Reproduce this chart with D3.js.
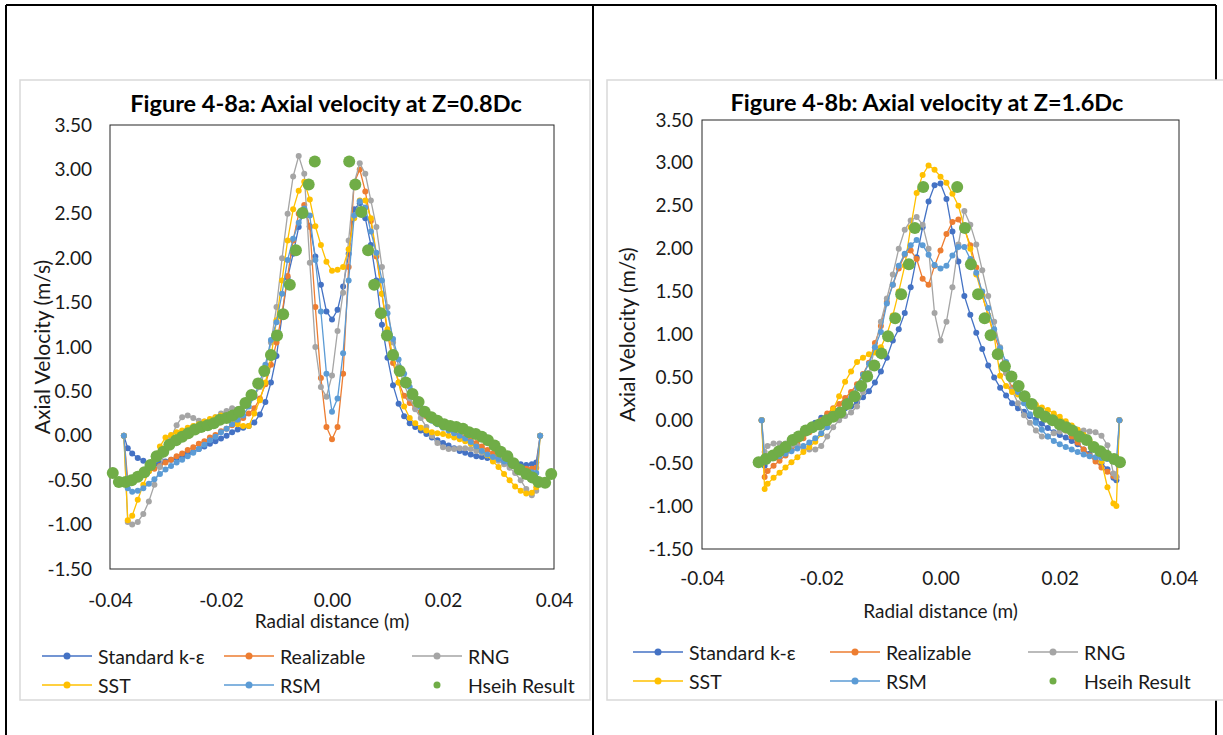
<!DOCTYPE html>
<html>
<head>
<meta charset="utf-8">
<script src="https://d3js.org/d3.v7.min.js"></script>
<style>
  body { margin: 0; background: #fff; }
  svg text { font-family: Lato, "Open Sans", sans-serif; fill: #1a1a1a; }
</style>
</head>
<body>
<svg id="page" width="1223" height="735"></svg>
<script>
// ---------- data ----------
const seriesNames = ["Standard k-ε", "Realizable", "RNG", "SST", "RSM"];
const seriesColors = ["#4472C4", "#ED7D31", "#A5A5A5", "#FFC000", "#5B9BD5"];
const hseihName = "Hseih Result";
const hseihColor = "#70AD47";
const xTicks = [-0.04, -0.02, 0, 0.02, 0.04];
const yTicks = [-1.5, -1, -0.5, 0, 0.5, 1, 1.5, 2, 2.5, 3, 3.5];

// Figure 4-8a, Z = 0.8Dc
const radialA = [-0.0375, -0.0368, -0.036, -0.035, -0.034, -0.033, -0.032, -0.031, -0.030, -0.029,
  -0.028, -0.027, -0.026, -0.025, -0.024, -0.023, -0.022, -0.021, -0.020, -0.019,
  -0.018, -0.017, -0.016, -0.015, -0.014, -0.013, -0.012, -0.011, -0.010, -0.009,
  -0.008, -0.007, -0.006, -0.005, -0.004, -0.003, -0.002, -0.001, 0,
  0.001, 0.002, 0.003, 0.004, 0.005, 0.006, 0.007, 0.008, 0.009, 0.010,
  0.011, 0.012, 0.013, 0.014, 0.015, 0.016, 0.017, 0.018, 0.019, 0.020,
  0.021, 0.022, 0.023, 0.024, 0.025, 0.026, 0.027, 0.028, 0.029, 0.030,
  0.031, 0.032, 0.033, 0.034, 0.035, 0.036, 0.0368, 0.0375];
const stdA = [0, -0.14, -0.20, -0.25, -0.28, -0.31, -0.32, -0.31, -0.29, -0.27,
  -0.25, -0.23, -0.20, -0.18, -0.15, -0.12, -0.09, -0.06, -0.03, 0.00,
  0.04, 0.07, 0.09, 0.11, 0.15, 0.24, 0.38, 0.60, 0.90, 1.35,
  1.78, 2.05, 2.35, 2.55, 2.36, 2.02, 1.70, 1.40, 1.31,
  1.42, 1.68, 2.05, 2.55, 2.62, 2.45, 2.15, 1.75, 1.25, 0.88,
  0.57, 0.36, 0.22, 0.14, 0.10, 0.06, 0.02, -0.02, -0.05, -0.08,
  -0.11, -0.14, -0.17, -0.19, -0.21, -0.23, -0.24, -0.25, -0.26, -0.27,
  -0.28, -0.30, -0.31, -0.32, -0.33, -0.32, -0.30, 0];
const realA = [0, -0.50, -0.50, -0.46, -0.43, -0.40, -0.37, -0.34, -0.30, -0.27,
  -0.23, -0.20, -0.16, -0.13, -0.09, -0.06, -0.02, 0.01, 0.05, 0.08,
  0.12, 0.16, 0.20, 0.25, 0.31, 0.42, 0.58, 0.80, 1.05, 1.38,
  1.80, 2.20, 2.50, 2.60, 2.35, 1.45, 0.65, 0.10, -0.04,
  0.10, 0.70, 1.90, 2.85, 3.00, 2.75, 2.42, 2.02, 1.60, 1.15,
  0.82, 0.60, 0.45, 0.37, 0.31, 0.26, 0.22, 0.18, 0.14, 0.10,
  0.07, 0.04, 0.01, -0.02, -0.05, -0.08, -0.12, -0.16, -0.20, -0.25,
  -0.28, -0.31, -0.34, -0.36, -0.37, -0.37, -0.36, 0];
const rngA = [0, -0.97, -1.00, -0.97, -0.88, -0.74, -0.55, -0.35, -0.16, -0.02,
  0.12, 0.21, 0.23, 0.20, 0.17, 0.16, 0.17, 0.21, 0.25, 0.28,
  0.31, 0.30, 0.33, 0.40, 0.45, 0.55, 0.75, 1.05, 1.45, 2.00,
  2.50, 2.92, 3.15, 2.95, 1.95, 1.00, 0.55, 0.44, 0.68,
  1.18, 1.61, 2.20, 2.85, 3.07, 2.95, 2.65, 2.35, 1.90, 1.45,
  1.05, 0.78, 0.58, 0.42, 0.30, 0.20, 0.10, 0.00, -0.08, -0.13,
  -0.15, -0.15, -0.14, -0.14, -0.15, -0.17, -0.19, -0.22, -0.25, -0.28,
  -0.32, -0.36, -0.42, -0.50, -0.60, -0.67, -0.62, 0];
const sstA = [0, -0.95, -0.90, -0.72, -0.55, -0.40, -0.27, -0.12, -0.02, 0.01,
  0.04, 0.06, 0.09, 0.11, 0.13, 0.16, 0.19, 0.21, 0.23, 0.21,
  0.17, 0.13, 0.11, 0.11, 0.25, 0.40, 0.60, 0.88, 1.30, 1.75,
  2.20, 2.55, 2.76, 2.86, 2.66, 2.36, 2.15, 1.96, 1.86,
  1.87, 1.90, 2.10, 2.45, 2.65, 2.65, 2.45, 2.05, 1.60, 1.20,
  0.88, 0.60, 0.33, 0.20, 0.14, 0.09, 0.06, 0.04, 0.03, 0.02,
  0.00, -0.02, -0.04, -0.06, -0.09, -0.12, -0.17, -0.22, -0.29, -0.35,
  -0.43, -0.50, -0.57, -0.62, -0.65, -0.64, -0.58, 0];
const rsmA = [0, -0.59, -0.63, -0.62, -0.59, -0.54, -0.49, -0.43, -0.38, -0.34,
  -0.30, -0.27, -0.23, -0.19, -0.15, -0.10, -0.05, -0.01, 0.04, 0.08,
  0.13, 0.18, 0.23, 0.33, 0.44, 0.61, 0.80, 1.08, 1.28, 1.60,
  1.98, 2.22, 2.40, 2.56, 2.48, 1.98, 1.40, 0.70, 0.27,
  0.42, 0.93, 1.75, 2.48, 2.64, 2.57, 2.30, 2.06, 1.75, 1.38,
  1.09, 0.86, 0.70, 0.55, 0.42, 0.32, 0.24, 0.17, 0.13, 0.09,
  0.06, 0.03, 0.00, -0.03, -0.07, -0.12, -0.17, -0.21, -0.24, -0.26,
  -0.29, -0.31, -0.34, -0.37, -0.40, -0.41, -0.42, 0];
const hseihXA = [-0.0395, -0.0384, -0.0372, -0.0361, -0.0350, -0.0338, -0.0327, -0.0316, -0.0304, -0.0293,
  -0.0281, -0.0270, -0.0259, -0.0247, -0.0236, -0.0224, -0.0213, -0.0202, -0.0190, -0.0179,
  -0.0167, -0.0156, -0.0145, -0.0133, -0.0122, -0.0110, -0.0099, -0.0088, -0.0076, -0.0065,
  -0.0053, -0.0042, -0.0031,
  0.0031, 0.0042, 0.0053, 0.0065, 0.0076, 0.0088, 0.0099, 0.0110, 0.0122, 0.0133,
  0.0145, 0.0156, 0.0167, 0.0179, 0.0190, 0.0202, 0.0213, 0.0224, 0.0236, 0.0247,
  0.0259, 0.0270, 0.0281, 0.0293, 0.0304, 0.0316, 0.0327, 0.0338, 0.0350, 0.0361,
  0.0372, 0.0384, 0.0395];
const hseihYA = [-0.42, -0.52, -0.52, -0.50, -0.46, -0.41, -0.33, -0.23, -0.18, -0.10,
  -0.05, -0.01, 0.03, 0.07, 0.10, 0.12, 0.14, 0.18, 0.20, 0.23,
  0.27, 0.37, 0.46, 0.59, 0.73, 0.91, 1.13, 1.37, 1.70, 2.09,
  2.51, 2.83, 3.09,
  3.09, 2.83, 2.52, 2.09, 1.70, 1.38, 1.13, 0.91, 0.73, 0.60,
  0.47, 0.38, 0.27, 0.21, 0.17, 0.13, 0.11, 0.10, 0.08, 0.04,
  0.02, -0.01, -0.05, -0.11, -0.18, -0.23, -0.31, -0.38, -0.43, -0.47,
  -0.52, -0.53, -0.43];

// Figure 4-8b, Z = 1.6Dc
const radialB = [-0.030, -0.0295, -0.029, -0.028, -0.027, -0.026, -0.025, -0.024, -0.023, -0.022,
  -0.021, -0.020, -0.019, -0.018, -0.017, -0.016, -0.015, -0.014, -0.013, -0.012,
  -0.011, -0.010, -0.009, -0.008, -0.007, -0.006, -0.005, -0.004, -0.003, -0.002,
  -0.001, 0,
  0.001, 0.002, 0.003, 0.004, 0.005, 0.006, 0.007, 0.008, 0.009, 0.010,
  0.011, 0.012, 0.013, 0.014, 0.015, 0.016, 0.017, 0.018, 0.019, 0.020,
  0.021, 0.022, 0.023, 0.024, 0.025, 0.026, 0.027, 0.028, 0.029, 0.0295, 0.030];
const stdB = [0, -0.53, -0.47, -0.40, -0.34, -0.29, -0.24, -0.19, -0.15, -0.09,
  -0.03, 0.03, 0.06, 0.10, 0.12, 0.14, 0.16, 0.21, 0.27, 0.34,
  0.44, 0.57, 0.73, 0.93, 1.06, 1.25, 1.55, 1.90, 2.25, 2.55,
  2.74, 2.76,
  2.58, 2.20, 1.85, 1.45, 1.23, 1.02, 0.83, 0.64, 0.50, 0.38,
  0.29, 0.20, 0.14, 0.10, 0.05, 0.01, -0.04, -0.09, -0.14, -0.17,
  -0.20, -0.24, -0.28, -0.34, -0.39, -0.45, -0.50, -0.57, -0.67, -0.70, 0];
const realB = [0, -0.66, -0.59, -0.53, -0.47, -0.41, -0.35, -0.28, -0.21, -0.14,
  -0.07, 0.00, 0.08, 0.14, 0.19, 0.26, 0.33, 0.42, 0.54, 0.67,
  0.90, 1.10, 1.38, 1.58, 1.77, 1.93, 1.98, 1.88, 1.65, 1.58,
  1.80, 1.98,
  2.17, 2.31, 2.34, 2.23, 2.04, 1.78, 1.46, 1.22, 1.00, 0.80,
  0.55, 0.38, 0.31, 0.25, 0.19, 0.14, 0.09, 0.04, -0.01, -0.06,
  -0.12, -0.19, -0.26, -0.34, -0.41, -0.48, -0.55, -0.60, -0.65, -0.66, 0];
const rngB = [0, -0.37, -0.30, -0.27, -0.27, -0.27, -0.29, -0.30, -0.32, -0.34,
  -0.34, -0.30, -0.19, -0.08, 0.00, 0.05, 0.09, 0.16, 0.33, 0.55,
  0.85, 1.15, 1.42, 1.70, 2.00, 2.22, 2.33, 2.37, 2.28, 2.00,
  1.25, 0.93,
  1.15, 1.55, 2.05, 2.44, 2.28, 2.05, 1.75, 1.45, 1.15, 0.85,
  0.55, 0.35, 0.20, 0.06, -0.03, -0.12, -0.19, -0.19, -0.15, -0.13,
  -0.12, -0.11, -0.11, -0.12, -0.13, -0.14, -0.18, -0.29, -0.62, -0.66, 0];
const sstB = [0, -0.80, -0.74, -0.67, -0.61, -0.55, -0.49, -0.43, -0.37, -0.31,
  -0.25, -0.16, -0.06, 0.13, 0.28, 0.45, 0.57, 0.68, 0.73, 0.77,
  0.79, 0.85, 1.00, 1.22, 1.50, 1.80, 2.25, 2.65, 2.86, 2.97,
  2.92, 2.84,
  2.77, 2.64, 2.50, 2.25, 2.00, 1.70, 1.45, 1.22, 0.98, 0.52,
  0.40, 0.33, 0.30, 0.26, 0.22, 0.18, 0.15, 0.12, 0.08, 0.04,
  -0.01, -0.06, -0.11, -0.17, -0.24, -0.32, -0.48, -0.78, -0.97, -1.00, 0];
const rsmB = [0, -0.48, -0.47, -0.44, -0.42, -0.39, -0.36, -0.33, -0.30, -0.26,
  -0.21, -0.15, -0.08, 0.03, 0.09, 0.16, 0.26, 0.38, 0.53, 0.66,
  0.85, 1.03, 1.36, 1.58, 1.80, 1.94, 2.04, 2.10, 2.04, 1.93,
  1.81, 1.77,
  1.80, 1.92, 2.02, 2.02, 1.88, 1.72, 1.50, 1.31, 1.06, 0.84,
  0.68, 0.50, 0.33, 0.20, 0.07, -0.03, -0.11, -0.19, -0.24, -0.28,
  -0.31, -0.34, -0.37, -0.40, -0.42, -0.43, -0.44, -0.45, -0.47, -0.47, 0];
const hseihXB = [-0.0305, -0.0293, -0.0281, -0.0271, -0.0260, -0.0248, -0.0238, -0.0226, -0.0215, -0.0203,
  -0.0191, -0.0180, -0.0168, -0.0156, -0.0144, -0.0133, -0.0123, -0.0111, -0.0099, -0.0088,
  -0.0076, -0.0066, -0.0053, -0.0043, -0.0029,
  0.0028, 0.0041, 0.0051, 0.0063, 0.0074, 0.0084, 0.0096, 0.0108, 0.0119, 0.0131,
  0.0141, 0.0153, 0.0165, 0.0176, 0.0188, 0.0200, 0.0211, 0.0221, 0.0233, 0.0245,
  0.0257, 0.0268, 0.0278, 0.0291, 0.0301];
const hseihYB = [-0.49, -0.45, -0.41, -0.36, -0.31, -0.23, -0.19, -0.12, -0.08, -0.05,
  0.00, 0.04, 0.09, 0.19, 0.28, 0.40, 0.51, 0.64, 0.78, 0.98,
  1.19, 1.47, 1.82, 2.24, 2.72,
  2.72, 2.24, 1.82, 1.47, 1.19, 0.99, 0.77, 0.63, 0.51, 0.40,
  0.28, 0.19, 0.09, 0.04, 0.00, -0.05, -0.08, -0.12, -0.19, -0.23,
  -0.31, -0.36, -0.41, -0.45, -0.49];

// ---------- layout ----------
const svg = d3.select("#page");

// table cell borders of the page the charts sit in
svg.append("path")
  .attr("d", "M6,5 H1216 M6,5 V735 M593,5 V735 M1216,5 V735")
  .attr("stroke", "#000").attr("stroke-width", 2).attr("fill", "none");

const charts = [
  {
    title: "Figure 4-8a: Axial velocity at Z=0.8Dc",
    box: [20, 80, 590, 700],
    plot: { left: 110, right: 554, top: 125, bottom: 569 },
    titleX: 326, titleY: 103, yPad: 18,
    xLabelY: 600, xTitleY: 620, yTitleX: 41,
    legendCols: [42, 224, 412], legendRows: [656, 685],
    radial: radialA, series: [stdA, realA, rngA, sstA, rsmA],
    hx: hseihXA, hy: hseihYA
  },
  {
    title: "Figure 4-8b: Axial velocity at Z=1.6Dc",
    box: [607, 80, 1240, 700],
    plot: { left: 702, right: 1179, top: 120, bottom: 549 },
    titleX: 927, titleY: 102, yPad: 9,
    xLabelY: 578, xTitleY: 610, yTitleX: 626,
    legendCols: [633, 830, 1028], legendRows: [652, 681],
    radial: radialB, series: [stdB, realB, rngB, sstB, rsmB],
    hx: hseihXB, hy: hseihYB
  }
];

charts.forEach(c => {
  const p = c.plot;
  const g = svg.append("g");

  g.append("rect")
    .attr("x", c.box[0]).attr("y", c.box[1])
    .attr("width", c.box[2] - c.box[0]).attr("height", c.box[3] - c.box[1])
    .attr("fill", "#fff").attr("stroke", "#d9d9d9").attr("stroke-width", 1.5);

  const x = d3.scaleLinear().domain([-0.04, 0.04]).range([p.left, p.right]);
  const y = d3.scaleLinear().domain([-1.5, 3.5]).range([p.bottom, p.top]);

  g.append("rect")
    .attr("x", p.left).attr("y", p.top)
    .attr("width", p.right - p.left).attr("height", p.bottom - p.top)
    .attr("fill", "none").attr("stroke", "#262626").attr("stroke-width", 1);

  const xAxis = g.append("g")
    .attr("transform", `translate(0,${c.xLabelY})`)
    .call(d3.axisBottom(x).tickValues(xTicks).tickSize(0).tickPadding(0)
      .tickFormat(d => d.toFixed(2)));
  xAxis.select(".domain").remove();
  xAxis.selectAll("text").attr("y", 0).attr("dy", "0.35em")
    .style("font-size", "19px").style("fill", "#1a1a1a");

  const yAxis = g.append("g")
    .attr("transform", `translate(${p.left},0)`)
    .call(d3.axisLeft(y).tickValues(yTicks).tickSize(0).tickPadding(c.yPad)
      .tickFormat(d => d.toFixed(2)));
  yAxis.select(".domain").remove();
  yAxis.selectAll("text").style("font-size", "19px").style("fill", "#1a1a1a");

  g.append("text")
    .attr("x", c.titleX).attr("y", c.titleY)
    .attr("text-anchor", "middle").attr("dominant-baseline", "central")
    .style("font-size", "23.5px").style("font-weight", "bold").style("fill", "#000")
    .text(c.title);

  g.append("text")
    .attr("x", (p.left + p.right) / 2).attr("y", c.xTitleY)
    .attr("text-anchor", "middle").attr("dominant-baseline", "central")
    .style("font-size", "19px")
    .text("Radial distance (m)");

  g.append("text")
    .attr("transform", `translate(${c.yTitleX},${(p.top + p.bottom) / 2}) rotate(-90)`)
    .attr("text-anchor", "middle").attr("dominant-baseline", "central")
    .style("font-size", "21px")
    .text("Axial Velocity (m/s)");

  const line = d3.line().x(d => x(d[0])).y(d => y(d[1]));

  c.series.forEach((vals, i) => {
    const pts = c.radial.map((r, k) => [r, vals[k]]);
    g.append("path").datum(pts)
      .attr("d", line)
      .attr("fill", "none").attr("stroke", seriesColors[i]).attr("stroke-width", 1.3);
    g.append("g").selectAll("circle").data(pts).join("circle")
      .attr("cx", d => x(d[0])).attr("cy", d => y(d[1])).attr("r", 3)
      .attr("fill", seriesColors[i]);
  });

  const hpts = c.hx.map((r, k) => [r, c.hy[k]]);
  g.append("g").selectAll("circle").data(hpts).join("circle")
    .attr("cx", d => x(d[0])).attr("cy", d => y(d[1])).attr("r", 6)
    .attr("fill", hseihColor);

  // legend, three columns by two rows
  const items = seriesNames.map((n, i) => ({ name: n, color: seriesColors[i], line: true }))
    .concat([{ name: hseihName, color: hseihColor, line: false }]);
  items.forEach((it, k) => {
    const lx = c.legendCols[k % 3];
    const ly = c.legendRows[Math.floor(k / 3)];
    if (it.line) {
      g.append("line").attr("x1", lx).attr("x2", lx + 50).attr("y1", ly).attr("y2", ly)
        .attr("stroke", it.color).attr("stroke-width", 1.3);
    }
    g.append("circle").attr("cx", lx + 25).attr("cy", ly).attr("r", 3.5).attr("fill", it.color);
    g.append("text").attr("x", lx + 56).attr("y", ly).attr("dominant-baseline", "central")
      .style("font-size", "19.5px").text(it.name);
  });
});
</script>
</body>
</html>
